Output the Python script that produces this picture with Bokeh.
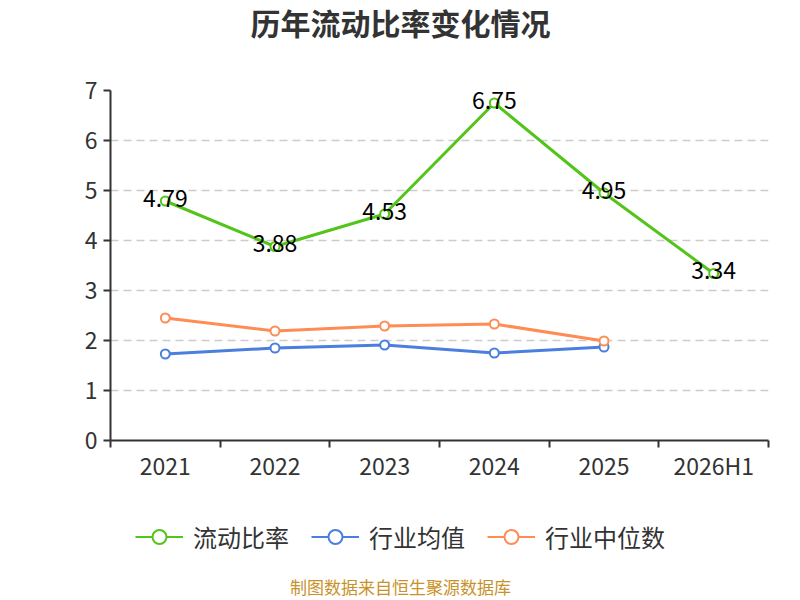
from bokeh.plotting import figure
from bokeh.layouts import column
from bokeh.models import (FixedTicker, Range1d, Legend, LegendItem, Label, ColumnDataSource)
from bokeh.embed import file_html
from bokeh.resources import INLINE
from bokeh.core.properties import value

categories = ["2021", "2022", "2023", "2024", "2025", "2026H1"]
current_ratio = [4.79, 3.88, 4.53, 6.75, 4.95, 3.34]
industry_avg = [1.73, 1.85, 1.91, 1.75, 1.87]
industry_median = [2.45, 2.19, 2.29, 2.33, 1.99]
y_ticks = [0, 1, 2, 3, 4, 5, 6, 7]
series_names = ["流动比率", "行业均值", "行业中位数"]
title_text = "历年流动比率变化情况"
source_text = "制图数据来自恒生聚源数据库"

FONT = "Noto Sans CJK SC"
GREEN = "#52c41a"
BLUE = "#4a7fe0"
ORANGE = "#ff8c55"
W = 800
LEFT = 110
RIGHT = 32

xc = [i + 0.5 for i in range(len(categories))]
series = [(current_ratio, GREEN), (industry_avg, BLUE), (industry_median, ORANGE)]

# ---- header figure with title ----
head = figure(width=W, height=45, output_backend="svg", toolbar_location=None,
              x_axis_location=None, y_axis_location=None,
              min_border_left=LEFT, min_border_right=RIGHT, min_border_top=0, min_border_bottom=0,
              x_range=Range1d(0, 1), y_range=Range1d(0, 1))
head.outline_line_color = None
head.grid.visible = False
head.add_layout(Label(x=W / 2 - LEFT, y=24, x_units="screen", y_units="screen", text=title_text,
                      text_font=FONT, text_font_size="30px", text_font_style="bold",
                      text_color="#333333", text_align="center", text_baseline="middle"))

# ---- main chart ----
p = figure(width=W, height=455, output_backend="svg", toolbar_location=None,
           x_range=Range1d(0, len(categories)), y_range=Range1d(0, 7),
           min_border_left=LEFT, min_border_right=RIGHT, min_border_top=45,
           min_border_bottom=60)
p.outline_line_color = None
p.xgrid.grid_line_color = None
p.ygrid.grid_line_color = "#cccccc"
p.ygrid.grid_line_dash = "8 5"
p.ygrid.grid_line_width = 1.5

p.xaxis.ticker = FixedTicker(ticks=xc, minor_ticks=list(range(len(categories) + 1)))
p.xaxis.major_label_overrides = {x: c for x, c in zip(xc, categories)}
p.xaxis.major_tick_out = 0
p.xaxis.major_tick_in = 0
p.xaxis.minor_tick_out = 7
p.xaxis.minor_tick_in = 0
p.xaxis.minor_tick_line_color = "#333333"
p.xaxis.minor_tick_line_width = 2
p.xaxis.axis_line_color = "#333333"
p.xaxis.axis_line_width = 2
p.xaxis.major_label_text_font = FONT
p.xaxis.major_label_text_font_size = "23px"
p.xaxis.major_label_text_color = "#333333"
p.xaxis.major_label_standoff = 0

p.yaxis.ticker = FixedTicker(ticks=y_ticks)
p.yaxis.minor_tick_line_color = None
p.yaxis.major_tick_out = 7
p.yaxis.major_tick_in = 0
p.yaxis.major_tick_line_color = "#333333"
p.yaxis.major_tick_line_width = 2
p.yaxis.axis_line_color = "#333333"
p.yaxis.axis_line_width = 2
p.yaxis.major_label_text_font = FONT
p.yaxis.major_label_text_font_size = "23px"
p.yaxis.major_label_text_color = "#333333"
p.yaxis.major_label_standoff = 6

for vals, col in series:
    p.line(xc[:len(vals)], vals, line_color=col, line_width=3)
    p.scatter(xc[:len(vals)], vals, size=9, fill_color="white", line_color=col, line_width=2)

src = ColumnDataSource(dict(x=xc, y=current_ratio, t=["%.2f" % v for v in current_ratio]))
p.text(x="x", y="y", text="t", source=src, text_align="center", text_baseline="middle",
       text_font=value(FONT), text_font_size="23px", text_color="#000000", y_offset=-3)

# ---- footer figure with legend and source ----
# the proxies below draw the same series, but this figure's y range (-20..-10) keeps them out of view
foot = figure(width=W, height=100, output_backend="svg", toolbar_location=None,
              x_axis_location=None, y_axis_location=None,
              min_border_left=LEFT, min_border_right=RIGHT, min_border_top=0, min_border_bottom=0,
              x_range=Range1d(0, len(categories)), y_range=Range1d(-20, -10))
foot.outline_line_color = None
foot.grid.visible = False
items = []
for name, (vals, col) in zip(series_names, series):
    lr = foot.line(xc[:len(vals)], vals, line_color=col, line_width=2)
    sr = foot.scatter(xc[:len(vals)], vals, size=14, fill_color="white", line_color=col, line_width=2)
    items.append(LegendItem(label=name, renderers=[lr, sr]))
legend = Legend(items=items, orientation="horizontal", location=(135 - LEFT, 46))
legend.label_text_font = FONT
legend.label_text_font_size = "24px"
legend.label_text_color = "#333333"
legend.border_line_color = None
legend.background_fill_alpha = 0
legend.glyph_width = 48
legend.glyph_height = 35
legend.spacing = 22
legend.label_standoff = 10
legend.margin = 0
legend.padding = 0
foot.add_layout(legend)
foot.add_layout(Label(x=W / 2 - LEFT, y=14, x_units="screen", y_units="screen", text=source_text,
                      text_font=FONT, text_font_size="17px", text_color="#c8922a",
                      text_align="center", text_baseline="middle"))

layout = column(head, p, foot, spacing=0)
open("out.html", "w").write(file_html(layout, INLINE))
